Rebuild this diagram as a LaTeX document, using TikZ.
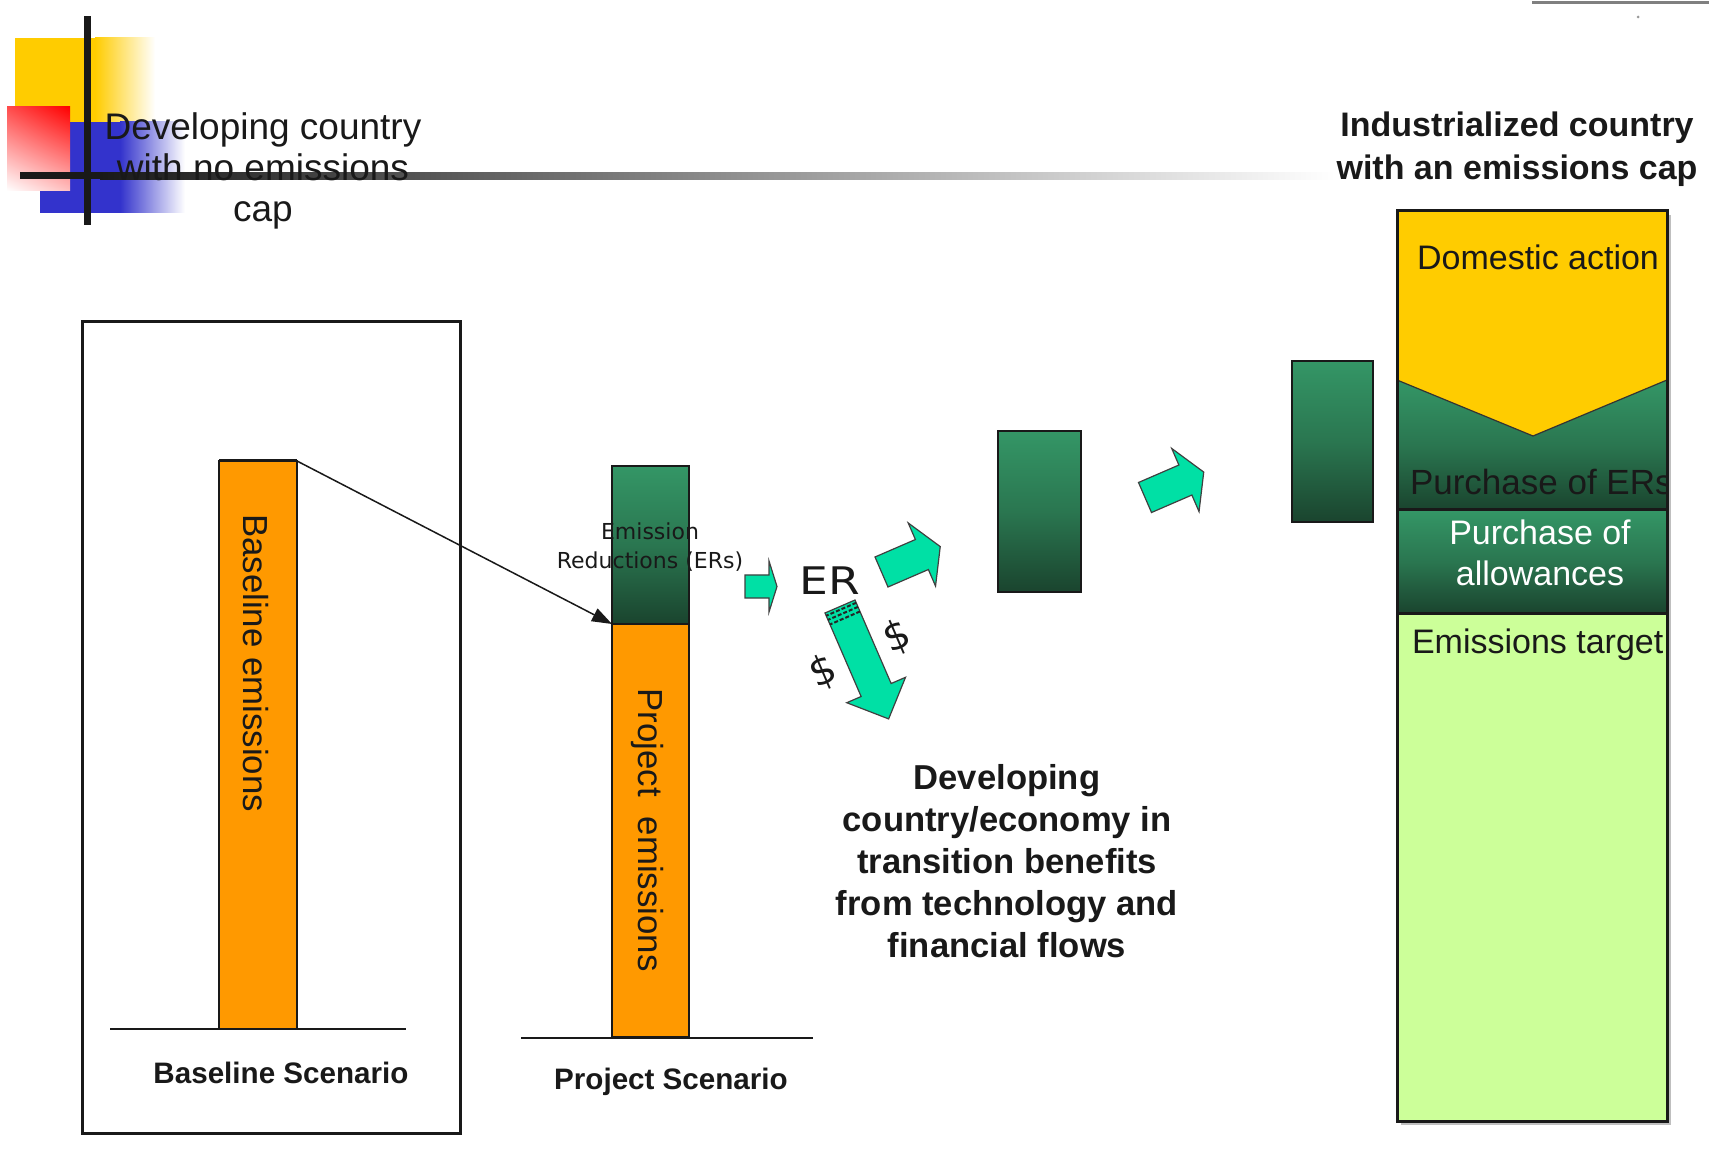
\documentclass[tikz,border=0pt]{standalone}
\usepackage{fontspec}
\setmainfont{Liberation Sans}
\newfontfamily\dejavu{DejaVu Sans}
\usetikzlibrary{fit,arrows.meta,shadings}
\definecolor{orangeC}{RGB}{255,153,0}
\definecolor{yellowC}{RGB}{255,204,0}
\definecolor{lgreenC}{RGB}{204,255,153}
\definecolor{tealC}{RGB}{0,224,165}
\definecolor{gtop}{RGB}{52,150,102}
\definecolor{gmid}{RGB}{42,118,80}
\definecolor{gbot}{RGB}{26,68,46}
\definecolor{logoblue}{RGB}{51,51,204}
\definecolor{logored}{RGB}{255,0,0}
\definecolor{inkC}{RGB}{25,25,25}
\begin{document}
\begin{tikzpicture}[x=0.5pt,y=-0.5pt,
  every node/.style={inner sep=0pt, outer sep=0pt, text=inkC},
  barbox/.style={draw=inkC, line width=1pt, inner sep=0pt},
  orangebar/.style={barbox, fill=orangeC},
  greenbox/.style={draw=inkC, line width=1.4pt, inner sep=0pt, top color=gtop, bottom color=gbot, middle color=gmid},
  groundline/.style={line width=1.4pt, draw=inkC},
  blockarrow/.style={fill=tealC, draw=black!75, line width=0.6pt, line join=miter},
  stripe/.style={draw=black!85, line width=1pt, dash pattern=on 2pt off 1pt},
  divider/.style={draw=inkC, line width=1.5pt},
]
\useasboundingbox (0,0) rectangle (1709,1160);

% ---------- logo ----------
\fill[yellowC] (15,38) rectangle (95,122);
\shade[left color=yellowC, right color=white] (95,38) rectangle (155,122);
\fill[logoblue] (40,122) rectangle (120,213);
\shade[left color=logoblue, right color=white] (120,122) rectangle (185,213);
\shade[upper left=logored!70, upper right=logored, lower left=white, lower right=logored!25] (7,107) rectangle (70,191);
\fill[inkC] (83.5,16) rectangle (90.5,225);
\fill[inkC] (20,172.5) rectangle (100,179.5);
\shade[left color=inkC, right color=white] (100,172.5) rectangle (1335,179.5);

% top-right artefact
\draw[black!50, line width=1.5pt] (1532,3) -- (1709,3);
\fill[black!40] (1638,17) circle (1.5);

% ---------- titles ----------
\node[align=center, font=\fontsize{18.5}{20.5}\selectfont] (titleL) at (263,171) {Developing country\\with no emissions\\cap};
\node[align=center, font=\bfseries\fontsize{17}{21.5}\selectfont] (titleR) at (1517,149) {Industrialized country\\with an emissions cap};

% ---------- baseline scenario ----------
\draw[line width=1.5pt, draw=inkC] (82,322) rectangle (460,1133);
\node[orangebar, fit={(219,461) (297,1029)}] (basebar) {};
\draw[line width=1.5pt, draw=inkC] (219,461) -- (297,461);
\node[rotate=-90, font=\fontsize{17.4}{20}\selectfont] (basetext) at (256,663) {Baseline emissions};
\draw[groundline] (110,1029) -- (406,1029);
\node[font=\bfseries\fontsize{14.8}{17}\selectfont] (basescen) at (281,1073) {Baseline Scenario};

% ---------- project scenario ----------
\node[orangebar, fit={(612,624) (689,1037)}] (projbar) {};
\node[greenbox, line width=1pt, fit={(612,466) (689,624)}] (projgreen) {};
\node[rotate=-90, font=\fontsize{17.4}{20}\selectfont] (projtext) at (647,830) {Project\hspace{0.3em} emissions};
\draw[groundline] (521,1038) -- (813,1038);
\node[font=\bfseries\fontsize{14.8}{17}\selectfont] (projscen) at (671,1082) {Project Scenario};
\node[align=center, font=\dejavu\fontsize{11}{14.5}\selectfont] (erlabel) at (650,547.5) {Emission\\Reductions (ERs)};

% connector
\draw[line width=0.75pt, draw=inkC, -{Triangle[length=10pt,width=7pt]}] (basebar.north east) -- (projgreen.south west);

% ---------- flow arrows ----------
\filldraw[blockarrow] (745,575) -- (769,575) -- (769,561) -- (777,586.5) -- (769,612) -- (769,598) -- (745,598) -- cycle;
\node[font=\dejavu\fontsize{19}{22}\selectfont, xscale=1.2] (er) at (830,581) {ER};

\begin{scope}[shift={(881.5,572)}, rotate=23.4]
  \filldraw[blockarrow] (0,-16.35) -- (44,-16.35) -- (44,-34.4) -- (64,0) -- (44,34.4) -- (44,16.35) -- (0,16.35) -- cycle;
\end{scope}
\begin{scope}[shift={(1145,497.5)}, rotate=23.4]
  \filldraw[blockarrow] (0,-16.35) -- (44,-16.35) -- (44,-34.4) -- (64,0) -- (44,34.4) -- (44,16.35) -- (0,16.35) -- cycle;
\end{scope}
\begin{scope}[shift={(840,606.5)}, rotate=-66.6]
  \filldraw[blockarrow] (0,-16.35) -- (91,-16.35) -- (91,-32) -- (122.5,0) -- (91,32) -- (91,16.35) -- (0,16.35) -- cycle;
  \draw[stripe] (3,-16.35) -- (3,16.35) (7.5,-16.35) -- (7.5,16.35) (12.5,-16.35) -- (12.5,16.35);
\end{scope}
\node[font=\dejavu\fontsize{20}{22}\selectfont, rotate=23.4] (dollarL) at (823,672) {\$};
\node[font=\dejavu\fontsize{20}{22}\selectfont, rotate=23.4] (dollarR) at (897,637) {\$};

% ---------- green blocks ----------
\node[greenbox, fit={(998,431) (1081,592)}] (boxA) {};
\node[greenbox, fit={(1292,361) (1373,522)}] (boxB) {};

% ---------- benefits text ----------
\node[align=center, font=\bfseries\fontsize{17.3}{21}\selectfont] (benefit) at (1007,861) {Developing\\country/economy in\\transition benefits\\from technology and\\financial flows};

% ---------- industrialized country bar ----------
\fill[black!25] (1401,215) rectangle (1671,1125);
\fill[lgreenC] (1397,613) rectangle (1667,1121);
\shade[top color=gtop, bottom color=gbot, middle color=gmid] (1397,510) rectangle (1667,613);
\shade[top color=gtop, bottom color=gbot, middle color=gmid] (1397,380) rectangle (1667,510);
\fill[yellowC] (1397,211) -- (1667,211) -- (1667,380) -- (1533,436) -- (1397,380) -- cycle;
\draw[black!80, line width=0.6pt] (1397,380) -- (1533,436) -- (1667,380);
\draw[divider] (1397,510) -- (1667,510) (1397,613) -- (1667,613);
\begin{scope}
  \clip (1397,211) rectangle (1667,1121);
  \node[font=\fontsize{17}{20}\selectfont] (domestic) at (1538,257) {Domestic action};
  \node[anchor=west, font=\fontsize{17.5}{20}\selectfont] (purchER) at (1410,482) {Purchase of ERs};
  \node[align=center, text=white, font=\fontsize{17}{20.5}\selectfont] (purchAll) at (1540,552.5) {Purchase of\\allowances};
  \node[anchor=west, font=\fontsize{17}{20}\selectfont] (target) at (1412,645) {Emissions target};
\end{scope}
\node[draw=inkC, line width=1.5pt, fit={(1397,211) (1667,1121)}] (rightbar) {};
\end{tikzpicture}
\end{document}
